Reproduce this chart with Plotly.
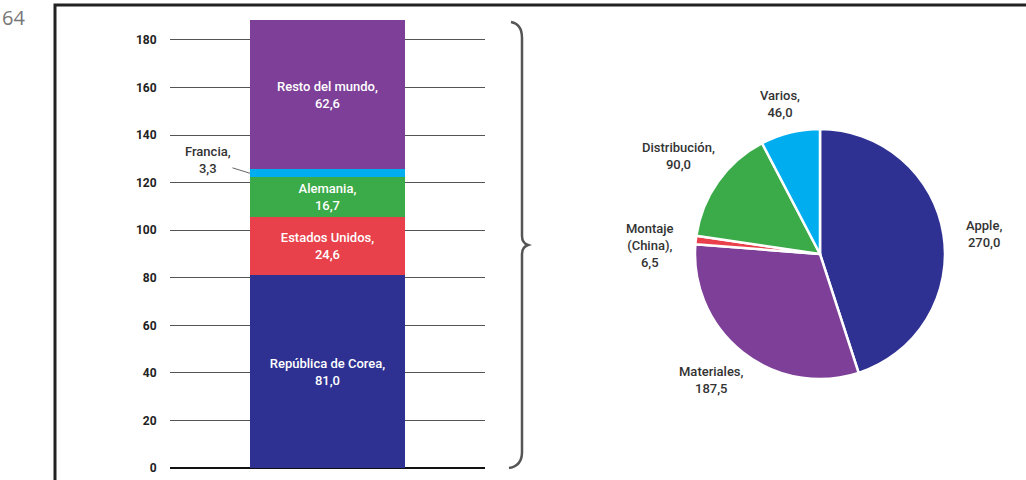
import plotly.graph_objects as go

# ---- data ----
bar_names = ["República de Corea", "Estados Unidos", "Alemania", "Francia", "Resto del mundo"]
bar_values = [81.0, 24.6, 16.7, 3.3, 62.6]
bar_colors = ["#2E3192", "#E8414B", "#3BAA48", "#00AEEF", "#7D3F98"]

pie_names = ["Apple", "Materiales", "Montaje (China)", "Distribución", "Varios"]
pie_values = [270.0, 187.5, 6.5, 90.0, 46.0]
pie_colors = ["#2E3192", "#7D3F98", "#E8414B", "#3BAA48", "#00AEEF"]
pie_label_text = ["Apple,<br>270,0", "Materiales,<br>187,5", "Montaje<br>(China),<br>6,5",
                  "Distribución,<br>90,0", "Varios,<br>46,0"]

y_ticks = [0, 20, 40, 60, 80, 100, 120, 140, 160, 180]

FONT = "Roboto, Liberation Sans, sans-serif"
W, H = 1026, 480


def px(x):
    return x / W


def py(y):
    return 1 - y / H


def fmt(v):
    return f"{v:.1f}".replace(".", ",")


fig = go.Figure()

for name, val, col in zip(bar_names, bar_values, bar_colors):
    txt = "" if name == "Francia" else f"{name},<br>{fmt(val)}"
    fig.add_trace(go.Bar(
        x=[0], y=[val], name=name, marker=dict(color=col, line=dict(width=0)),
        text=[txt], textposition="inside", insidetextanchor="middle",
        textfont=dict(color="white", size=13, family=FONT, weight=500), width=0.492,
        hoverinfo="name+y", showlegend=False, constraintext="none",
    ))

fig.add_trace(go.Pie(
    values=pie_values, labels=pie_names, sort=False, direction="clockwise", rotation=0,
    marker=dict(colors=pie_colors, line=dict(color="white", width=2.5)),
    textinfo="none", showlegend=False,
    domain=dict(x=[px(695), px(945)], y=[py(379), py(129)]),
))

fig.update_layout(
    width=W, height=H, barmode="stack", bargap=0,
    margin=dict(l=0, r=0, t=0, b=0, autoexpand=False),
    paper_bgcolor="white", plot_bgcolor="white",
    font=dict(family=FONT, color="#333"),
    xaxis=dict(domain=[px(170), px(485)], range=[-0.5, 0.5], showticklabels=False,
               showgrid=False, zeroline=False, showline=False, fixedrange=True,
               automargin=False),
    yaxis=dict(domain=[py(468), py(16.2)], range=[0, 190], tickvals=y_ticks,
               ticktext=[str(t) for t in y_ticks], showgrid=True, gridcolor="#555",
               gridwidth=1, zeroline=True, zerolinecolor="#111", zerolinewidth=2,
               ticks="outside", ticklen=10, tickcolor="rgba(0,0,0,0)",
               tickfont=dict(size=12, color="#222", family=FONT, weight="bold"),
               showline=False, automargin=False, ticklabeloverflow="allow"),
)

# pie labels
pie_label_pos = [(984, 234), (711, 380), (650, 246), (678, 156), (780, 104)]
for t, (x, y) in zip(pie_label_text, pie_label_pos):
    fig.add_annotation(x=px(x), y=py(y), xref="paper", yref="paper", text=t,
                       xanchor="center", yanchor="middle",
                       showarrow=False, font=dict(size=13, color="#333", family=FONT, weight=500),
                       align="center")

# Francia label with leader line
fr_mid = sum(bar_values[:3]) + bar_values[3] / 2
fig.add_annotation(x=-0.5 + (1 - 0.492) / 2, y=fr_mid, xref="x", yref="y",
                   text="Francia,<br>3,3", showarrow=True, arrowhead=0, arrowwidth=1,
                   arrowcolor="#666", ax=-42, ay=-13,
                   font=dict(size=13, color="#333", family=FONT, weight=500), align="center")

# page number
fig.add_annotation(x=px(0), y=py(18), xref="paper", yref="paper", text="64",
                   showarrow=False, xanchor="left", yanchor="middle",
                   font=dict(size=20, color="#777", family="Open Sans"))

# frame
fig.add_shape(type="rect", xref="paper", yref="paper", x0=px(55), x1=px(1040),
              y0=py(495), y1=py(5), line=dict(color="#222", width=3))

# curly brace
brace = (f"M {px(511)} {py(22)} Q {px(522)} {py(24)} {px(522)} {py(38)} "
         f"L {px(522)} {py(236)} Q {px(522)} {py(243)} {px(528)} {py(245)} "
         f"Q {px(522)} {py(247)} {px(522)} {py(254)} "
         f"L {px(522)} {py(452)} Q {px(522)} {py(466)} {px(509)} {py(468)}")
fig.add_shape(type="path", path=brace, xref="paper", yref="paper",
              line=dict(color="#555", width=2.5))

post = ("document.documentElement.style.margin='0px';"
        "document.documentElement.style.overflow='hidden';"
        "document.body.style.margin='0px';"
        "document.body.style.padding='0px';"
        "document.body.style.overflow='hidden';"
        "var gd=document.getElementsByClassName('plotly-graph-div')[0];"
        "gd.style.position='fixed';gd.style.top='0px';gd.style.left='0px';")

fig.write_html("out.html", post_script=post, config={"displayModeBar": False})
